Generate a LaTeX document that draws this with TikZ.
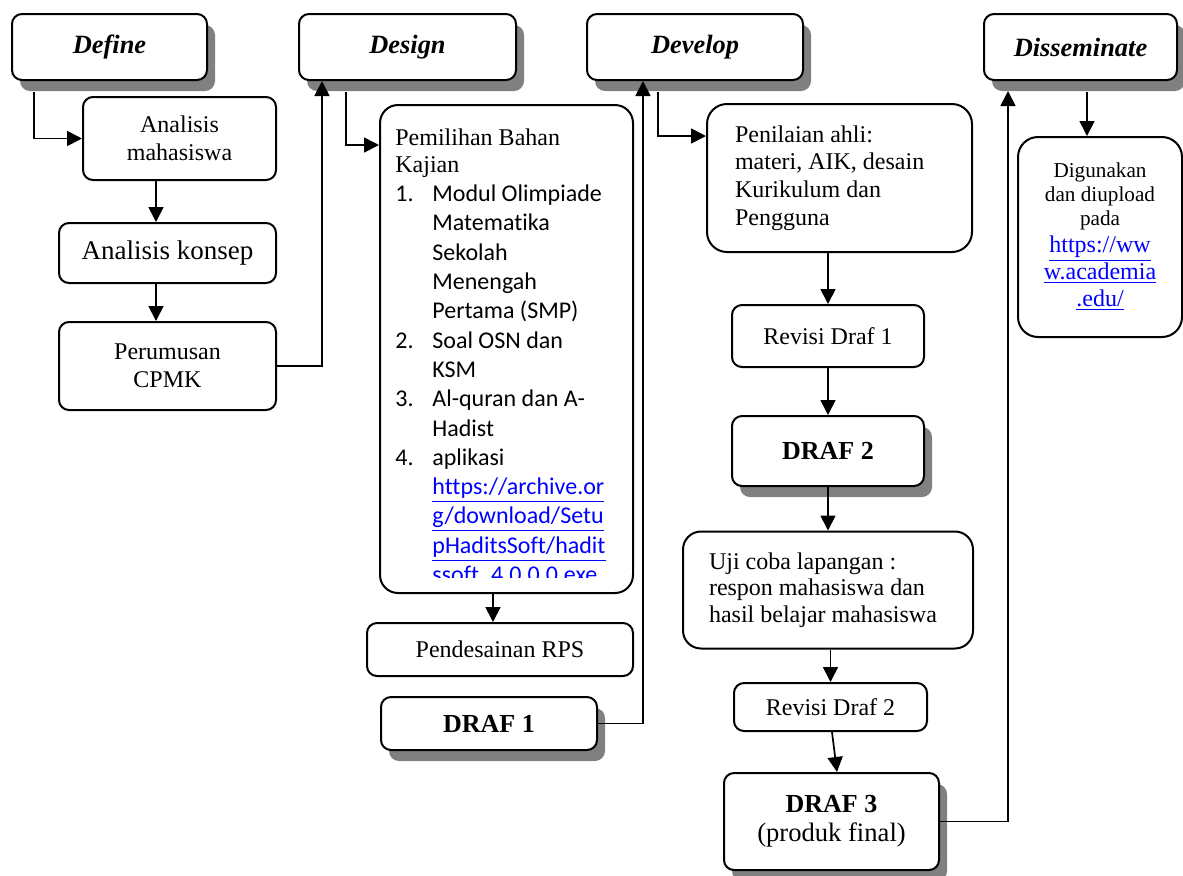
\documentclass[tikz,border=0pt]{standalone}
\usepackage{fontspec}
\setmainfont{Liberation Serif}
\newfontfamily\calibri[Ligatures=NoCommon]{Carlito}
\usepackage{tikz}
\usetikzlibrary{arrows.meta,shadows}
\definecolor{linkblue}{RGB}{0,0,255}
\tikzset{>/.tip={Triangle[length=7.5pt,width=7.5pt]},
  wh/.style 2 args={minimum width=#1*0.5pt,minimum height=#2*0.5pt},
  box/.style={draw,fill=white,line width=1pt,rounded corners=5pt,align=center,inner sep=0pt,
    font=\fontsize{12}{13.8}\selectfont},
  shade/.style={drop shadow={shadow xshift=4pt,shadow yshift=-5.5pt,opacity=1,fill=black!50}},
  phase/.style={box,shade,font=\fontsize{13.2}{15}\selectfont\bfseries\itshape},
  draft/.style={box,shade,font=\fontsize{13}{14.5}\selectfont\bfseries},
  flow/.style={line width=0.85pt}}
\newcommand{\lnk}[1]{\textcolor{linkblue}{\underline{#1}}}
\newcommand{\lsnum}[1]{\makebox[18.5pt][l]{#1}}
\newcommand{\lsind}{\hspace*{18.5pt}}

\begin{document}
\begin{tikzpicture}[x=0.5pt,y=-0.5pt]
\useasboundingbox (0,0) rectangle (1183,875);

% phases
\node[phase,wh={195}{66}] (define) at (109.5,47) {Define};
\node[phase,wh={217}{66}] (design) at (407.5,47) {Design};
\node[phase,wh={216}{66}] (develop) at (695,47) {Develop};
\node[phase,wh={193}{66}] (dissem) at (1080.5,47) {Disseminate};

% define
\node[box,wh={193}{83}] (anmhs) at (179.5,138.5) {Analisis\\mahasiswa};
\node[box,wh={217}{60},font=\fontsize{13.5}{15}\selectfont] (ankonsep) at (167.5,253) {Analisis konsep};
\node[box,wh={217}{88}] (cpmk) at (167.5,366) {Perumusan\\CPMK};

% design
\node[box,wh={253}{488},rounded corners=9pt] (bahan) at (506.5,349) {};
\begin{scope}
\clip (381,106) rectangle (632,577);
\node[anchor=north west,align=flush left,inner sep=0pt,font=\calibri\fontsize{12}{14.65}\selectfont]
  (bahantxt) at (395,128) {{\rmfamily Pemilihan Bahan}\\[-1pt]
  {\rmfamily Kajian}\\
  \lsnum{1.}Modul Olimpiade\\
  \lsind Matematika\\
  \lsind Sekolah\\
  \lsind Menengah\\
  \lsind Pertama (SMP)\\
  \lsnum{2.}Soal OSN dan\\
  \lsind KSM\\
  \lsnum{3.}Al-quran dan A-\\
  \lsind Hadist\\
  \lsnum{4.}aplikasi\\
  \lsind\lnk{https://archive.or}\\
  \lsind\lnk{g/download/Setu}\\
  \lsind\lnk{pHaditsSoft/hadit}\\
  \lsind\lnk{ssoft\_4.0.0.0.exe}};
\end{scope}
\node[box,wh={266}{53}] (rps) at (500,649.5) {Pendesainan RPS};
\node[draft,wh={216}{53}] (draf1) at (489,723.5) {DRAF 1};

% develop
\node[box,wh={265}{148},rounded corners=10pt,align=flush left,text width=104.5pt,inner xsep=14pt]
  (nilai) at (839.5,178) {Penilaian ahli:\\materi, AIK, desain\\Kurikulum dan\\Pengguna};
\node[box,wh={192}{62}] (rev1) at (828,336) {Revisi Draf 1};
\node[draft,wh={192}{70}] (draf2) at (828,451) {DRAF 2};
\node[box,wh={290}{117},rounded corners=9pt,align=flush left,text width=119pt,inner xsep=13pt,
  font=\fontsize{12}{13.3}\selectfont]
  (uji) at (828,590) {Uji coba lapangan :\\respon mahasiswa dan\\hasil belajar mahasiswa};
\node[box,wh={193}{48}] (rev2) at (830.5,707) {Revisi Draf 2};
\node[draft,wh={215}{97}] (draf3) at (831.5,821.5) {DRAF 3\\\mdseries\fontsize{13.3}{14.5}\selectfont (produk final)};

% disseminate
\node[box,wh={164}{200},rounded corners=10pt,font=\fontsize{12}{13.5}\selectfont]
  (guna) at (1100,237) {\fontsize{10.6}{12}\selectfont Digunakan\\[-1.5pt]
  \fontsize{10.6}{12}\selectfont dan diupload\\[-1.5pt]
  \fontsize{10.6}{12}\selectfont pada\\
  \lnk{https://ww}\\\lnk{w.academia}\\\lnk{.edu/}};

\draw[flow,->] ([xshift=11.5pt,yshift=-5.5pt]define.south west) |- (anmhs.west);
\draw[flow,->] ([xshift=-11.75pt]anmhs.south) -- ([xshift=-11.75pt]anmhs.south |- ankonsep.north);
\draw[flow,->] ([xshift=-5.75pt]ankonsep.south) -- ([xshift=-5.75pt]cpmk.north);
\draw[flow,->] (cpmk.east) -| ([xshift=12pt]design.south west);
\draw[flow,->] ([xshift=24pt,yshift=-5.5pt]design.south west) |- ([yshift=-20.5pt]bahan.north west);
\draw[flow,->] ([xshift=-3.5pt]rps.north |- bahan.south) -- ([xshift=-3.5pt]rps.north);
\draw[flow,->] (draf1.east) -| ([xshift=28.5pt]develop.south west);
\draw[flow,->] ([xshift=36pt,yshift=-5.5pt]develop.south west) |- ([yshift=-16.5pt]nilai.north west);
\draw[flow,->] (nilai.south -| rev1.north) -- (rev1.north);
\draw[flow,->] (rev1) -- (draf2);
\draw[flow,->] (draf2) -- (uji);
\draw[flow,->] (uji.south -| rev2.north) -- (rev2.north);
\draw[flow,->] ([xshift=0.75pt]rev2.south) -- ([xshift=2.75pt]draf3.north);
\draw[flow,->] (draf3.east) -| ([xshift=12.5pt,yshift=-5pt]dissem.south west);
\draw[flow,->] ([xshift=3.25pt,yshift=-5.5pt]dissem.south) -- ([xshift=3.25pt]dissem.south |- guna.north);
\end{tikzpicture}
\end{document}
